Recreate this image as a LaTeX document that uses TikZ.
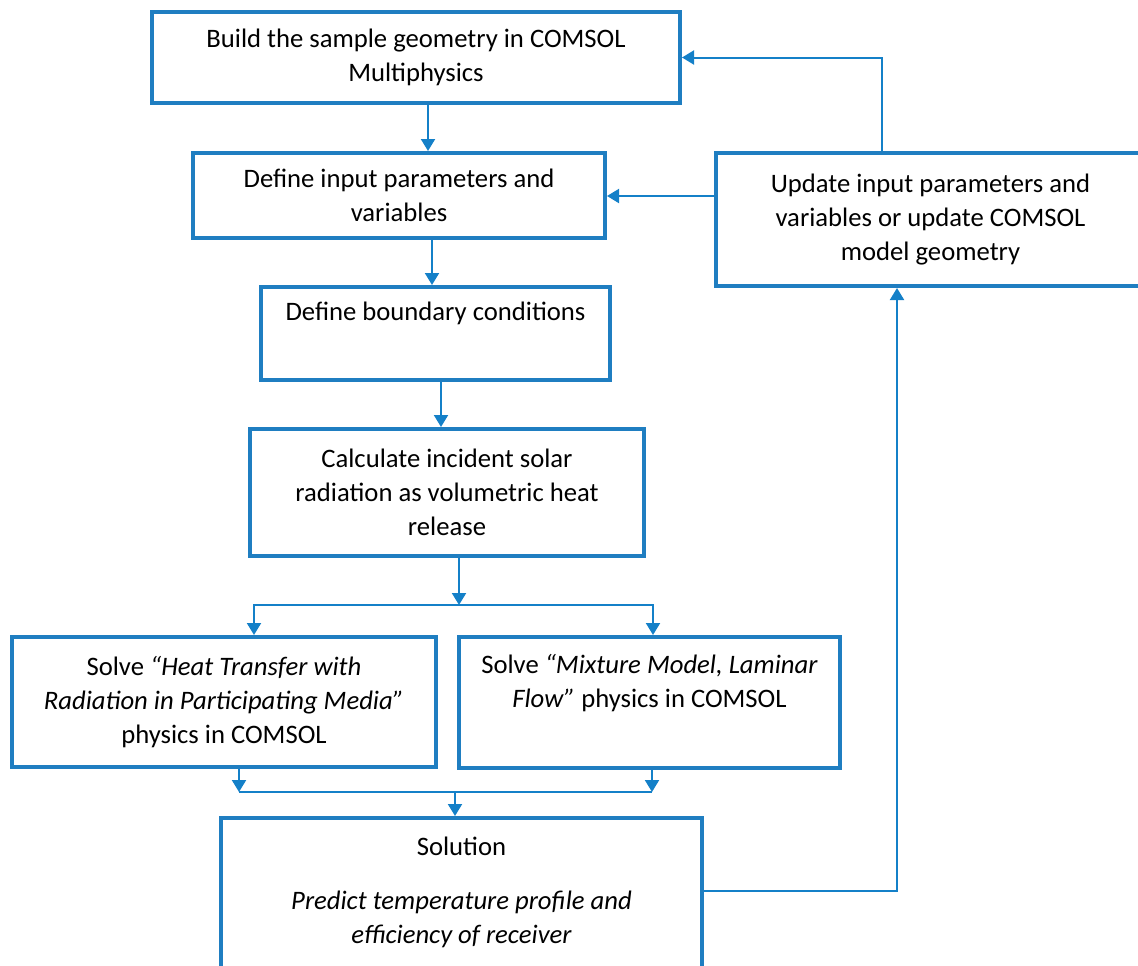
\documentclass[tikz,border=0pt]{standalone}
\usepackage{fontspec}
\setmainfont{Carlito}
\usetikzlibrary{arrows.meta}
\definecolor{boxblue}{RGB}{31,126,193}
\definecolor{lineblue}{RGB}{20,128,200}
\tikzset{
  stage/.style={draw=boxblue, line width=3pt, rectangle, align=center,
    inner sep=0pt, font=\fontsize{20}{25.5}\selectfont},
  flow/.style={draw=lineblue, line width=1.5pt},
  arr/.style={flow, -{Triangle[width=10.5pt,length=9pt]}}
}
\begin{document}
\begin{tikzpicture}[x=0.75pt, y=-0.75pt]
  \useasboundingbox (0,0) rectangle (1138,965);
  \clip (0,0) rectangle (1138,965);
  % process boxes
  \node[stage, minimum width=396pt, minimum height=68.25pt] (build) at (416,57.5)
    {Build the sample geometry in COMSOL\\Multiphysics};
  \node[stage, minimum width=309pt, minimum height=63.75pt] (define) at (399,195.5)
    {Define input parameters and\\variables};
  \node[stage, minimum width=261.75pt, minimum height=69.75pt] (bound) at (435.5,333.5)
    {Define boundary conditions\\ \strut};
  \node[stage, minimum width=295.5pt, minimum height=95.25pt] (calc) at (447,492.5)
    {Calculate incident solar\\radiation as volumetric heat\\release};
  \node[stage, minimum width=318pt, minimum height=97.5pt] (heat) at (224,702)
    {Solve \textit{``Heat Transfer with}\\\textit{Radiation in Participating Media''}\\physics in COMSOL};
  \node[stage, minimum width=285.75pt, minimum height=98.25pt] (mix) at (649.5,702.5)
    {Solve \textit{``Mixture Model, Laminar}\\\textit{Flow''} physics in COMSOL\\ \strut};
  \node[stage, minimum width=360.75pt, minimum height=141.75pt] (sol) at (461.5,912.5)
    {Solution\\[15pt]\textit{Predict temperature profile and}\\\textit{efficiency of receiver}\\ \strut};
  \node[stage, minimum width=321.75pt, minimum height=99.75pt] (update) at (930.5,219.5)
    {Update input parameters and\\variables or update COMSOL\\model geometry};
  % main chain
  \draw[arr] (build.south -| 428,0) -- (define.north -| 428,0);
  \draw[arr] (define.south -| 432,0) -- (bound.north -| 432,0);
  \draw[arr] (bound.south -| 441,0) -- (calc.north -| 441,0);
  % split into the two solvers
  \coordinate (split) at (459,605);
  \draw[arr] (calc.south -| split) -- (split);
  \draw[arr] (split) -| (254,0 |- heat.north);
  \draw[arr] (split) -| (653,0 |- mix.north);
  % merge into solution
  \coordinate (merge) at (455,792);
  \draw[arr] (heat.south -| 239,0) -- (merge -| 239,0);
  \draw[arr] (mix.south -| 652,0) -- (merge -| 652,0);
  \draw[flow] (merge -| 239,0) -- (merge -| 652,0);
  \draw[arr] (merge) -- (sol.north -| merge);
  % feedback loop
  \draw[arr] (sol.east |- 0,891) -| (897,0 |- update.south);
  \draw[arr] (update.north -| 882,0) |- (build.east);
  \draw[arr] (update.west |- 0,196) -- (define.east |- 0,196);
\end{tikzpicture}
\end{document}
